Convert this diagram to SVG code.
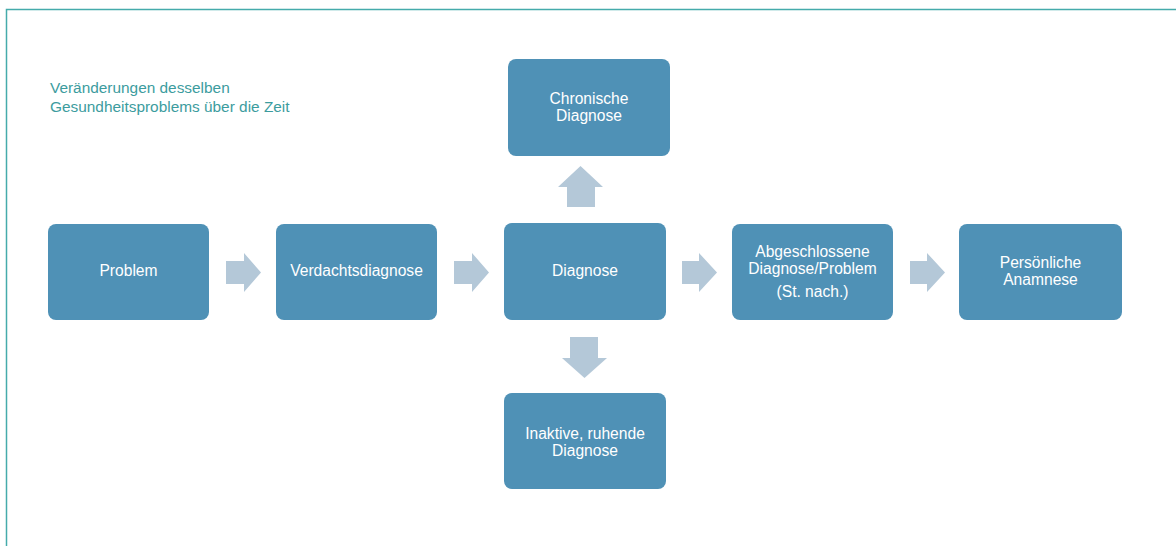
<svg xmlns="http://www.w3.org/2000/svg" width="1176" height="546" viewBox="0 0 1176 546">
<style>
.box{fill:#4f91b6;}
.lbl{font-family:"Liberation Sans",Arial,sans-serif;font-size:15.6px;fill:#ffffff;text-anchor:middle;}
.arr{fill:#b4c8d8;}
.title{font-family:"Liberation Sans",Arial,sans-serif;font-size:15.4px;fill:#3c9c9e;}
</style>
<rect x="0" y="0" width="1176" height="546" fill="#ffffff"/>
<rect x="6.5" y="9.5" width="1200" height="600" fill="none" stroke="#45abab" stroke-width="1.5"/>
<g id="title">
<text class="title" x="50" y="93">Veränderungen desselben</text>
<text class="title" x="50" y="112">Gesundheitsproblems über die Zeit</text>
</g>
<g id="connectors">
<polygon class="arr" points="226,261 244,261 244,253 261,272.5 244,292 244,284 226,284"/>
<polygon class="arr" points="454,261 472,261 472,253 489,272.5 472,292 472,284 454,284"/>
<polygon class="arr" points="682,261 699,261 699,253 717,272.5 699,292 699,284 682,284"/>
<polygon class="arr" points="910,261 927,261 927,253 945,272.5 927,292 927,284 910,284"/>
<polygon class="arr" points="567,207 567,187 558,187 580.5,166 603,187 595,187 595,207"/>
<polygon class="arr" points="570,337 598,337 598,358 607,358 584.5,378 562,358 570,358"/>
</g>
<g id="n-problem">
<rect class="box" x="48" y="224" width="161" height="96" rx="8"/>
<text class="lbl" x="128.5" y="276">Problem</text>
</g>
<g id="n-verdacht">
<rect class="box" x="276" y="224" width="161" height="96" rx="8"/>
<text class="lbl" x="356.5" y="276">Verdachtsdiagnose</text>
</g>
<g id="n-diagnose">
<rect class="box" x="504" y="223" width="162" height="97" rx="8"/>
<text class="lbl" x="585" y="276">Diagnose</text>
</g>
<g id="n-chronisch">
<rect class="box" x="508" y="59" width="162" height="97" rx="8"/>
<text class="lbl" x="589" y="104">Chronische</text>
<text class="lbl" x="589" y="121">Diagnose</text>
</g>
<g id="n-inaktiv">
<rect class="box" x="504" y="393" width="162" height="96" rx="8"/>
<text class="lbl" x="585" y="439">Inaktive, ruhende</text>
<text class="lbl" x="585" y="456">Diagnose</text>
</g>
<g id="n-abgeschlossen">
<rect class="box" x="732" y="224" width="161" height="96" rx="8"/>
<text class="lbl" x="812.5" y="257">Abgeschlossene</text>
<text class="lbl" x="812.5" y="274">Diagnose/Problem</text>
<text class="lbl" x="812.5" y="297">(St. nach.)</text>
</g>
<g id="n-anamnese">
<rect class="box" x="959" y="224" width="163" height="96" rx="8"/>
<text class="lbl" x="1040.5" y="268">Persönliche</text>
<text class="lbl" x="1040.5" y="285">Anamnese</text>
</g>
</svg>
